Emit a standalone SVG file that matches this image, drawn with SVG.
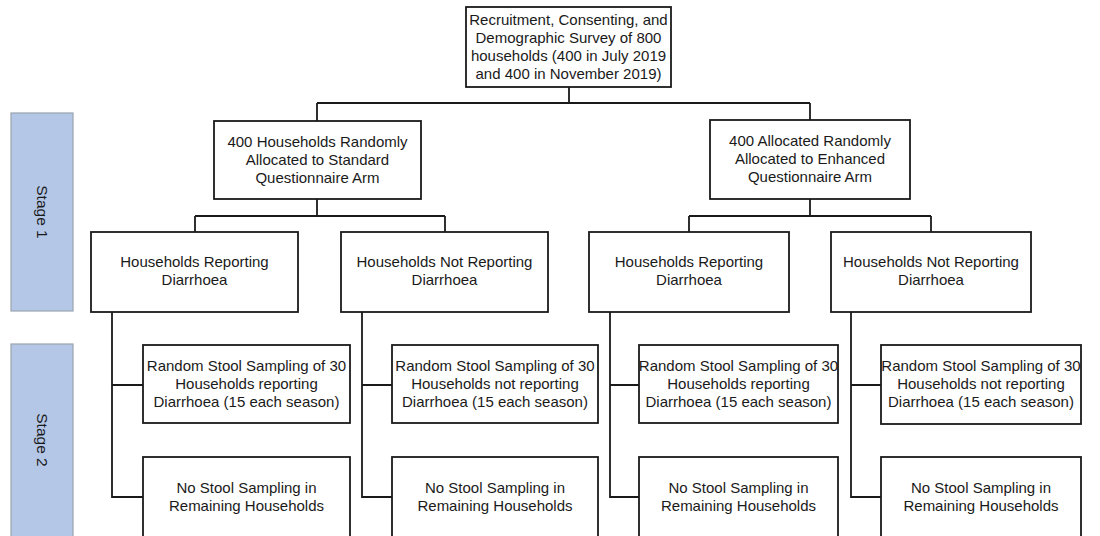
<svg xmlns="http://www.w3.org/2000/svg" width="1100" height="536" viewBox="0 0 1100 536">
<style>
.box{fill:#fff;stroke:#1a1a1a;stroke-width:1.8}
.stage{fill:#b4c7e7;stroke:#9aa3ae;stroke-width:1.2}
.t{font-family:"Liberation Sans",Arial,sans-serif;font-size:15px;fill:#1a1a1a;text-anchor:middle}
.s{font-size:15.5px}
.c{fill:none;stroke:#1a1a1a;stroke-width:1.8}
</style>
<rect width="1100" height="536" fill="#fff"/>
<g id="stage1"><rect class="stage" x="11" y="113" width="62" height="198"/><text class="t s" transform="translate(37 212) rotate(90)">Stage 1</text></g>
<g id="stage2"><rect class="stage" x="11" y="344" width="62" height="200"/><text class="t s" transform="translate(37 440) rotate(90)">Stage 2</text></g>
<g id="connectors">
<path class="c" d="M569 87V103M317 103H810M317 103V121M810 103V120"/>
<path class="c" d="M317 199V216M195 216H445M195 216V232M445 216V232"/>
<path class="c" d="M810 199V216M689 216H931M689 216V232M931 216V232"/>
<path class="c" d="M112 312V497H143M112 385H143"/>
<path class="c" d="M362 312V497H392M362 385H392"/>
<path class="c" d="M610 312V497H639M610 385H639"/>
<path class="c" d="M851 312V497H881M851 385H881"/>
</g>
<g id="top"><rect class="box" x="466" y="7" width="205" height="80"/>
<text class="t"><tspan x="568.5" y="25">Recruitment, Consenting, and</tspan><tspan x="568.5" y="43">Demographic Survey of 800</tspan><tspan x="568.5" y="61">households (400 in July 2019</tspan><tspan x="568.5" y="79">and 400 in November 2019)</tspan></text></g>
<g id="standard"><rect class="box" x="214" y="121" width="207" height="78"/>
<text class="t"><tspan x="317.5" y="147">400 Households Randomly</tspan><tspan x="317.5" y="165">Allocated to Standard</tspan><tspan x="317.5" y="183">Questionnaire Arm</tspan></text></g>
<g id="enhanced"><rect class="box" x="710" y="120" width="200" height="79"/>
<text class="t"><tspan x="810" y="146">400 Allocated Randomly</tspan><tspan x="810" y="164">Allocated to Enhanced</tspan><tspan x="810" y="182">Questionnaire Arm</tspan></text></g>
<g id="s-rep"><rect class="box" x="91" y="232" width="207" height="80"/>
<text class="t"><tspan x="194.5" y="267">Households Reporting</tspan><tspan x="194.5" y="285">Diarrhoea</tspan></text></g>
<g id="s-norep"><rect class="box" x="341" y="232" width="207" height="80"/>
<text class="t"><tspan x="444.5" y="267">Households Not Reporting</tspan><tspan x="444.5" y="285">Diarrhoea</tspan></text></g>
<g id="e-rep"><rect class="box" x="589" y="232" width="200" height="80"/>
<text class="t"><tspan x="689" y="267">Households Reporting</tspan><tspan x="689" y="285">Diarrhoea</tspan></text></g>
<g id="e-norep"><rect class="box" x="831" y="232" width="200" height="80"/>
<text class="t"><tspan x="931" y="267">Households Not Reporting</tspan><tspan x="931" y="285">Diarrhoea</tspan></text></g>
<g id="s-rep-rand"><rect class="box" x="143" y="345" width="207" height="78"/>
<text class="t"><tspan x="246.5" y="371">Random Stool Sampling of 30</tspan><tspan x="246.5" y="389">Households reporting</tspan><tspan x="246.5" y="407">Diarrhoea (15 each season)</tspan></text></g>
<g id="s-rep-no"><rect class="box" x="143" y="457" width="207" height="84"/>
<text class="t"><tspan x="246.5" y="493">No Stool Sampling in</tspan><tspan x="246.5" y="511">Remaining Households</tspan></text></g>
<g id="s-norep-rand"><rect class="box" x="392" y="345" width="206" height="78"/>
<text class="t"><tspan x="495" y="371">Random Stool Sampling of 30</tspan><tspan x="495" y="389">Households not reporting</tspan><tspan x="495" y="407">Diarrhoea (15 each season)</tspan></text></g>
<g id="s-norep-no"><rect class="box" x="392" y="457" width="206" height="84"/>
<text class="t"><tspan x="495" y="493">No Stool Sampling in</tspan><tspan x="495" y="511">Remaining Households</tspan></text></g>
<g id="e-rep-rand"><rect class="box" x="639" y="345" width="199" height="78"/>
<text class="t"><tspan x="738.5" y="371">Random Stool Sampling of 30</tspan><tspan x="738.5" y="389">Households reporting</tspan><tspan x="738.5" y="407">Diarrhoea (15 each season)</tspan></text></g>
<g id="e-rep-no"><rect class="box" x="639" y="457" width="199" height="84"/>
<text class="t"><tspan x="738.5" y="493">No Stool Sampling in</tspan><tspan x="738.5" y="511">Remaining Households</tspan></text></g>
<g id="e-norep-rand"><rect class="box" x="881" y="345" width="200" height="79"/>
<text class="t"><tspan x="981" y="371">Random Stool Sampling of 30</tspan><tspan x="981" y="389">Households not reporting</tspan><tspan x="981" y="407">Diarrhoea (15 each season)</tspan></text></g>
<g id="e-norep-no"><rect class="box" x="881" y="457" width="200" height="84"/>
<text class="t"><tspan x="981" y="493">No Stool Sampling in</tspan><tspan x="981" y="511">Remaining Households</tspan></text></g>
</svg>
